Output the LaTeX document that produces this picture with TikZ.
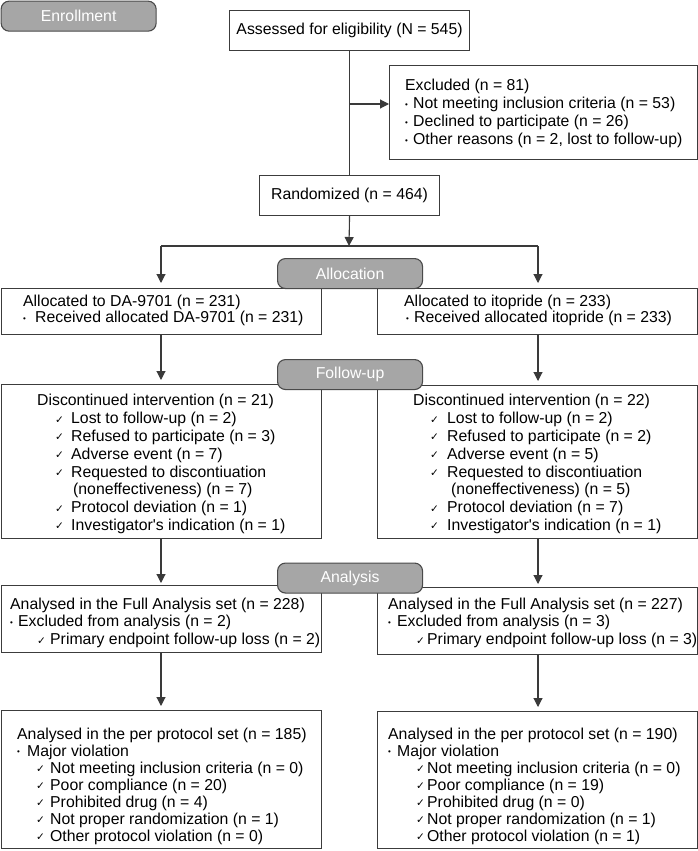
\documentclass[tikz,border=0pt]{standalone}
\usepackage{fontspec}
\setmainfont{Liberation Sans}
\newfontfamily\dvs{DejaVu Sans}
\usetikzlibrary{arrows.meta}
\definecolor{boxc}{HTML}{3C3C3C}
\definecolor{linec}{HTML}{3A3A3A}
\definecolor{hdrf}{HTML}{A6A6A6}
\definecolor{hdrb}{HTML}{4A4A4A}
\newcommand\fs{\fontsize{15.8pt}{17.8pt}\selectfont}
\newcommand\ck{\raisebox{0.5pt}{\dvs\fontsize{10.5pt}{10pt}\selectfont ✓}}
\newcommand\ckl[2]{\hspace*{#1pt}\makebox[#2pt][l]{\ck}}
\newcommand\bl[1]{\makebox[#1pt][l]{\raisebox{1.6pt}{\fontsize{8pt}{8pt}\selectfont •}}}
\newcommand\apo{\textquotesingle}
\tikzset{
  box/.style={draw=boxc, line width=1.1pt, fill=white, inner sep=0pt, anchor=north west, font=\fs},
  hdr/.style={draw=hdrb, fill=hdrf, rounded corners=8pt, line width=1.1pt, text=white, inner sep=0pt, anchor=north west, font=\fs, minimum width=145pt, minimum height=30pt},
  txt/.style={inner sep=0pt, anchor=north west, align=left, font=\fs},
  ln/.style={draw=linec, line width=1.1pt},
  arr/.style={draw=linec, line width=1.1pt, -{Triangle[width=9pt,length=9pt]}}
}
\begin{document}
\begin{tikzpicture}[x=1pt,y=-1pt]
\useasboundingbox (0,0) rectangle (698,851);
% enrollment
\node[hdr, minimum width=155pt, minimum height=30pt] (henr) at (0.6,0.6) {Enrollment};
% boxes
\node[box, minimum width=240pt, minimum height=40pt] (assess) at (229,10) {Assessed for eligibility (N = 545)};
\node[box, minimum width=308pt, minimum height=94pt] (excl) at (389,65) {};
\node[box, minimum width=180pt, minimum height=40pt] (rand) at (259,175) {Randomized (n = 464)};
\node[box, minimum width=320.4pt, minimum height=46pt] (allocL) at (0.6,288) {};
\node[box, minimum width=320pt, minimum height=46pt] (allocR) at (377,288) {};
\node[box, minimum width=320.4pt, minimum height=154pt] (fuL) at (0.6,384) {};
\node[box, minimum width=320pt, minimum height=153pt] (fuR) at (377,385) {};
\node[box, minimum width=320.4pt, minimum height=67pt] (faL) at (0.6,585) {};
\node[box, minimum width=320pt, minimum height=67pt] (faR) at (377,587) {};
\node[box, minimum width=320.4pt, minimum height=138pt] (ppL) at (0.6,710) {};
\node[box, minimum width=320pt, minimum height=137pt] (ppR) at (377,711) {};
% texts
\node[txt, font=\fontsize{15.8pt}{18pt}\selectfont] (texcl) at (405,79.2) {Excluded (n = 81)\\
\bl{8}Not meeting inclusion criteria (n = 53)\\
\bl{8}Declined to participate (n = 26)\\
\bl{8}Other reasons (n = 2, lost to follow-up)};
\node[txt, font=\fontsize{15.8pt}{16pt}\selectfont] (tallocL) at (23,295.2) {Allocated to DA-9701 (n = 231)\\
\bl{12}Received allocated DA-9701 (n = 231)};
\node[txt, font=\fontsize{15.8pt}{16.5pt}\selectfont] (tallocR) at (404,294.5) {Allocated to itopride (n = 233)\\
\hspace*{2pt}\bl{8}Received allocated itopride (n = 233)};
\node[txt] (tfuL) at (37,394.2) {Discontinued intervention (n = 21)\\
\ckl{18}{16}Lost to follow-up (n = 2)\\
\ckl{18}{16}Refused to participate (n = 3)\\
\ckl{18}{16}Adverse event (n = 7)\\
\ckl{18}{16}Requested to discontiuation\\
\hspace*{36pt}(noneffectiveness) (n = 7)\\
\ckl{18}{16}Protocol deviation (n = 1)\\
\ckl{18}{16}Investigator\apo s indication (n = 1)};
\node[txt] (tfuR) at (413,394.2) {Discontinued intervention (n = 22)\\
\ckl{17}{17}Lost to follow-up (n = 2)\\
\ckl{17}{17}Refused to participate (n = 2)\\
\ckl{17}{17}Adverse event (n = 5)\\
\ckl{17}{17}Requested to discontiuation\\
\hspace*{38pt}(noneffectiveness) (n = 5)\\
\ckl{17}{17}Protocol deviation (n = 7)\\
\ckl{17}{17}Investigator\apo s indication (n = 1)};
\node[txt] (tfaL) at (10,597.5) {Analysed in the Full Analysis set (n = 228)\\
\bl{8}Excluded from analysis (n = 2)\\
\ckl{27}{13}Primary endpoint follow-up loss (n = 2)};
\node[txt] (tfaR) at (388,597.5) {Analysed in the Full Analysis set (n = 227)\\
\bl{9}Excluded from analysis (n = 3)\\
\ckl{28}{11}Primary endpoint follow-up loss (n = 3)};
\node[txt, font=\fontsize{15.8pt}{17pt}\selectfont] (tppL) at (17,727.5) {Analysed in the per protocol set (n = 185)\\
\bl{10}Major violation\\
\ckl{19}{14}Not meeting inclusion criteria (n = 0)\\
\ckl{19}{14}Poor compliance (n = 20)\\
\ckl{19}{14}Prohibited drug (n = 4)\\
\ckl{19}{14}Not proper randomization (n = 1)\\
\ckl{19}{14}Other protocol violation (n = 0)};
\node[txt, font=\fontsize{15.8pt}{17pt}\selectfont] (tppR) at (388,727.5) {Analysed in the per protocol set (n = 190)\\
\bl{9}Major violation\\
\ckl{28}{11}Not meeting inclusion criteria (n = 0)\\
\ckl{28}{11}Poor compliance (n = 19)\\
\ckl{28}{11}Prohibited drug (n = 0)\\
\ckl{28}{11}Not proper randomization (n = 1)\\
\ckl{28}{11}Other protocol violation (n = 1)};
% headers
\node[hdr] (halloc) at (277,258) {Allocation};
\node[hdr] (hfu) at (277,359) {Follow-up};
\node[hdr] (hana) at (277,562.5) {Analysis};
% connectors
\draw[ln] (assess.south) -- (rand.north);
\coordinate (ex) at (349,104);
\draw[arr] (ex) -- (ex -| excl.west);
\coordinate (j) at (349,246);
\coordinate (jl) at (161,246);
\coordinate (jr) at (538,246);
\draw[arr] (rand.south) -- (j);
\draw[ln] (jl) -- (jr);
\draw[arr, shorten >=5pt] (jl) -- (jl |- allocL.north);
\draw[arr, shorten >=5pt] (jr) -- (jr |- allocR.north);
\draw[arr, shorten >=4pt] (allocL.south -| jl) -- (fuL.north -| jl);
\draw[arr, shorten >=4pt] (allocR.south -| jr) -- (fuR.north -| jr);
\draw[arr, shorten >=2pt] (fuL.south -| jl) -- (faL.north -| jl);
\draw[arr, shorten >=3pt] (fuR.south -| jr) -- (faR.north -| jr);
\draw[arr, shorten >=4pt] (faL.south -| jl) -- (ppL.north -| jl);
\draw[arr, shorten >=4pt] (faR.south -| jr) -- (ppR.north -| jr);
\end{tikzpicture}
\end{document}
